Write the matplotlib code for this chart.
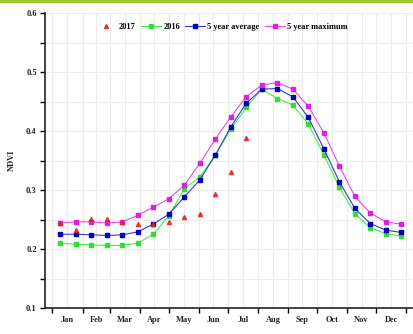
import matplotlib
matplotlib.use("Agg")
import matplotlib.pyplot as plt
from matplotlib.patches import Rectangle
from matplotlib.ticker import FixedLocator, NullFormatter, FixedFormatter

# ---- data ----
months = ["Jan", "Feb", "Mar", "Apr", "May", "Jun", "Jul", "Aug", "Sep", "Oct", "Nov", "Dec"]
month_start_day = [0, 31, 59, 90, 120, 151, 181, 212, 243, 273, 304, 334, 365]
composite_doy = [1, 17, 33, 49, 65, 81, 97, 113, 129, 145, 161, 177, 193,
                 209, 225, 241, 257, 273, 289, 305, 321, 337, 353]

ndvi_2017 = [0.244, 0.232, 0.251, 0.251, 0.245, 0.242, 0.242, 0.246, 0.255,
             0.259, 0.294, 0.331, 0.388]
ndvi_2016 = [0.210, 0.208, 0.207, 0.206, 0.206, 0.210, 0.225, 0.256, 0.302,
             0.322, 0.359, 0.403, 0.440, 0.471, 0.455, 0.444, 0.412, 0.360,
             0.305, 0.260, 0.236, 0.226, 0.222]
ndvi_avg5 = [0.225, 0.225, 0.224, 0.223, 0.224, 0.229, 0.242, 0.259, 0.288,
             0.317, 0.359, 0.407, 0.447, 0.471, 0.472, 0.458, 0.423, 0.370,
             0.314, 0.269, 0.243, 0.232, 0.228]
ndvi_max5 = [0.244, 0.246, 0.246, 0.244, 0.246, 0.257, 0.271, 0.285, 0.308,
             0.345, 0.386, 0.424, 0.458, 0.478, 0.482, 0.471, 0.442, 0.397,
             0.341, 0.289, 0.261, 0.246, 0.242]

# composites plotted at their mid-period (day index from Jan 1)
x_all = [d - 1 + 8 for d in composite_doy]
x_2017 = x_all[:len(ndvi_2017)]

serif = "Liberation Serif"
W, H = 414, 334
fig = plt.figure(figsize=(W / 100, H / 100), dpi=100)
fig.patch.set_facecolor("white")
fig.add_artist(Rectangle((0, 1 - 3 / H), 1, 3 / H, transform=fig.transFigure,
                         facecolor="#9acd32", edgecolor="none"))

ax = fig.add_axes([45 / W, 1 - 308 / H, (412 - 45) / W, (308 - 13) / H])
ax.set_xlim(-7.7, 371)
ax.set_ylim(0.1, 0.6)

lw = 0.8
ax.plot(x_all, ndvi_2016, color="#44ee44", lw=lw, marker="s", ms=2.4,
        mec="#33dd33", mfc="#33dd33", label="2016", zorder=3)
ax.plot(x_all, ndvi_avg5, color="#3a3ad0", lw=lw, marker="s", ms=3.2,
        mec="#0000c0", mfc="#0000c0", label="5 year average", zorder=4)
ax.plot(x_all, ndvi_max5, color="#ee44ee", lw=lw, marker="s", ms=2.8,
        mec="#e020e0", mfc="#e020e0", label="5 year maximum", zorder=5)
ax.plot(x_2017, ndvi_2017, linestyle="none", marker="^", ms=3.0,
        color="#e82020", alpha=0.85, label="2017", zorder=6)

# x axis: month boundaries as ticks, month names centered
centers = [(month_start_day[i] + month_start_day[i + 1]) / 2 for i in range(12)]
ax.xaxis.set_major_locator(FixedLocator(month_start_day))
ax.xaxis.set_major_formatter(NullFormatter())
ax.xaxis.set_minor_locator(FixedLocator(centers))
ax.xaxis.set_minor_formatter(FixedFormatter(months))
ax.tick_params(axis="x", which="major", direction="out", length=3.5, width=1.0)
ax.tick_params(axis="x", which="minor", length=0, pad=6)

ax.yaxis.set_major_locator(FixedLocator([0.1, 0.2, 0.3, 0.4, 0.5, 0.6]))
ax.yaxis.set_minor_locator(FixedLocator([0.15, 0.25, 0.35, 0.45, 0.55]))
ax.yaxis.set_major_formatter(FixedFormatter(["0.1", "0.2", "0.3", "0.4", "0.5", "0.6"]))
ax.tick_params(axis="y", which="major", direction="out", length=3.5, width=1.0, pad=2.5)
ax.tick_params(axis="y", which="minor", direction="out", length=3.5, width=1.0)

for lab in ax.get_xticklabels(minor=True) + ax.get_yticklabels():
    lab.set_fontfamily(serif)
    lab.set_fontweight("bold")
    lab.set_fontsize(6)
    lab.set_color("#222222")

ax.grid(True, which="both", color="#ececec", lw=0.8)
ax.set_axisbelow(True)
for s in ["top", "right"]:
    ax.spines[s].set_visible(False)
for s in ["left", "bottom"]:
    ax.spines[s].set_linewidth(1.2)
    ax.spines[s].set_color("#222222")

fig.text(12 / W, 1 - 160 / H, "NDVI", rotation=90, ha="center", va="center",
         fontfamily=serif, fontweight="bold", fontsize=6, color="#222222")

h, l = ax.get_legend_handles_labels()
order = [3, 0, 1, 2]
leg = fig.legend([h[i] for i in order], [l[i] for i in order], loc="center",
                 bbox_to_anchor=(222 / W, 1 - 27 / H), ncol=4, frameon=False,
                 handlelength=2.4, handletextpad=0.3, columnspacing=0.6,
                 prop={"family": serif, "weight": "bold", "size": 6})

fig.savefig("out.png", dpi=100)
